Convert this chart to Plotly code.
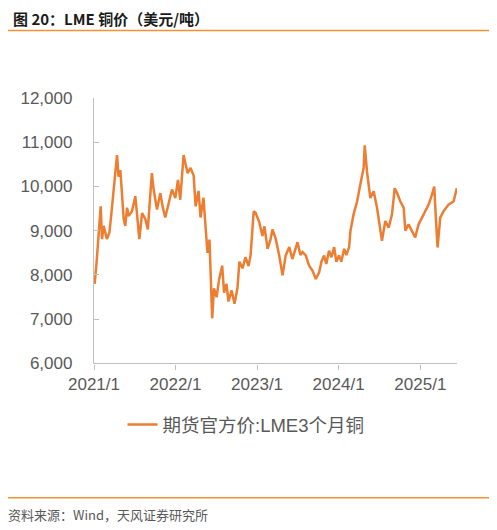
import plotly.graph_objects as go

# LME 3-month copper, USD/t
dates_2021 = ["2021-01-04", "2021-01-08", "2021-01-12", "2021-01-17", "2021-01-25", "2021-01-31",
              "2021-02-06", "2021-02-13", "2021-02-28", "2021-03-11", "2021-03-20", "2021-03-30",
              "2021-04-07", "2021-04-14", "2021-04-21", "2021-04-29", "2021-05-06", "2021-05-14",
              "2021-05-21", "2021-05-29", "2021-06-05", "2021-06-20", "2021-07-05", "2021-07-12",
              "2021-07-23", "2021-08-04", "2021-08-19", "2021-08-30", "2021-09-10", "2021-09-17",
              "2021-09-25", "2021-10-10", "2021-10-25", "2021-11-04", "2021-11-16", "2021-12-01",
              "2021-12-16", "2021-12-31"]
price_2021 = [7800, 7990, 8250, 8590, 9110, 9550,
              8810, 9110, 8810, 8960, 9400, 9930,
              10300, 10710, 10220, 10370, 9850, 9260,
              9110, 9520, 9330, 9440, 9780, 9330,
              8810, 9400, 9260, 9030, 9700, 10300,
              9930, 9480, 9850, 9550, 9300, 9590,
              9930, 9740]

dates_2022 = ["2022-01-12", "2022-01-22", "2022-02-06", "2022-02-24", "2022-03-09", "2022-03-23",
              "2022-04-01", "2022-04-14", "2022-04-23", "2022-05-06", "2022-05-15", "2022-05-24",
              "2022-06-02", "2022-06-07", "2022-06-14", "2022-06-22", "2022-07-04", "2022-07-15",
              "2022-07-29", "2022-08-06", "2022-08-17", "2022-08-26", "2022-09-09", "2022-09-22",
              "2022-10-05", "2022-10-14", "2022-10-28", "2022-11-10", "2022-11-24", "2022-12-03",
              "2022-12-17", "2022-12-26"]
price_2022 = [10150, 9700, 10710, 10300, 10420, 10250,
              9550, 9900, 9300, 9745, 9150, 8500,
              8800, 8070, 7020, 7700, 7500, 7900,
              8210, 7600, 7800, 7400, 7650, 7350,
              7700, 8300, 8150, 8400, 8200, 8450,
              9440, 9400]

dates_2023 = ["2023-01-11", "2023-01-25", "2023-02-03", "2023-02-17", "2023-03-02", "2023-03-11",
              "2023-03-26", "2023-04-10", "2023-04-25", "2023-05-09", "2023-05-25", "2023-06-08",
              "2023-06-20", "2023-07-01", "2023-07-14", "2023-07-23", "2023-08-07", "2023-08-22",
              "2023-09-06", "2023-09-21", "2023-10-06", "2023-10-16", "2023-10-28", "2023-11-07",
              "2023-11-19", "2023-11-30", "2023-12-12", "2023-12-22"]
price_2023 = [9190, 8880, 9100, 8590, 8800, 9030,
              8810, 8440, 7990, 8440, 8630, 8360,
              8550, 8740, 8450, 8520, 8440, 8210,
              8100, 7910, 8060, 8300, 8440, 8250,
              8550, 8400, 8630, 8300]

dates_2024 = ["2024-01-03", "2024-01-13", "2024-01-26", "2024-02-05", "2024-02-17", "2024-02-23",
              "2024-03-08", "2024-03-24", "2024-04-07", "2024-04-22", "2024-04-27", "2024-05-07",
              "2024-05-22", "2024-06-06", "2024-06-21", "2024-07-06", "2024-07-13", "2024-07-28",
              "2024-08-12", "2024-08-27", "2024-09-08", "2024-09-19", "2024-10-03", "2024-10-18",
              "2024-10-26", "2024-11-09", "2024-11-25", "2024-12-09", "2024-12-24"]
price_2024 = [8440, 8300, 8590, 8450, 8630, 8995,
              9370, 9665, 10040, 10420, 10930, 10335,
              9740, 9890, 9520, 9000, 8770, 9220,
              9070, 9370, 9960, 9850, 9665, 9520,
              9000, 9145, 9000, 8850, 9145]

dates_2025 = ["2025-01-08", "2025-01-23", "2025-02-07", "2025-02-22", "2025-03-04", "2025-03-13",
              "2025-03-19", "2025-03-31", "2025-04-15", "2025-05-07", "2025-05-30", "2025-06-13"]
price_2025 = [9295, 9440, 9590, 9815, 10000, 9145,
              8620, 9295, 9440, 9590, 9665, 9960]

dates = dates_2021 + dates_2022 + dates_2023 + dates_2024 + dates_2025
prices = price_2021 + price_2022 + price_2023 + price_2024 + price_2025

x_ticks = ["2021-01-01", "2022-01-01", "2023-01-01", "2024-01-01", "2025-01-01"]
x_labels = ["2021/1", "2022/1", "2023/1", "2024/1", "2025/1"]

series_name = "期货官方价:LME3个月铜"
title = "图 20：LME 铜价（美元/吨）"
source = "资料来源：Wind，天风证券研究所"

ORANGE = "#ED7D31"
RULE = "#F39033"
AXIS = "#BFBFBF"
TEXT = "#595959"
FONT = "Liberation Sans, Arial, Noto Sans CJK SC, sans-serif"

# the page puts the figure 8px in from the top-left corner
OFF = 8
W, H = 497 - OFF, 530 - OFF
ML, MR, MT, MB = 93 - OFF, 40, 98 - OFF, 165
plot_w = W - ML - MR
plot_h = H - MT - MB
bottom = H - MB  # plot bottom in figure pixels


def px_x(x):
    return (x - OFF - ML) / plot_w


def px_y(y):
    return (bottom - (y - OFF)) / plot_h


fig = go.Figure()
fig.add_trace(go.Scatter(x=dates, y=prices, mode="lines", name=series_name,
                         line=dict(color=ORANGE, width=2.5)))

fig.update_layout(
    width=W, height=H,
    margin=dict(l=ML, r=MR, t=MT, b=MB),
    paper_bgcolor="white", plot_bgcolor="white",
    font=dict(family=FONT, color=TEXT, size=17),
    showlegend=True,
    legend=dict(orientation="h", xref="container", yref="container",
                x=(246 - OFF) / W, xanchor="center", y=1 - (425 - OFF) / H, yanchor="middle",
                font=dict(size=18.5, color=TEXT)),
)

# title as an annotation just inside the top-left corner
fig.add_annotation(text="<b>" + title + "</b>", xref="paper", yref="paper",
                   x=px_x(10), y=px_y(18), xanchor="left", yanchor="middle",
                   showarrow=False,
                   font=dict(family="Noto Sans CJK SC, sans-serif", size=15, color="#1a1a1a"))

fig.update_xaxes(type="date", range=["2021-01-01", "2025-06-14"],
                 tickvals=x_ticks, ticktext=x_labels,
                 showline=True, linecolor=AXIS, linewidth=1.3,
                 ticks="outside", ticklen=5, tickcolor=AXIS,
                 showgrid=False, zeroline=False)
fig.update_yaxes(range=[6000, 12000], dtick=1000, tickformat=",",
                 showline=True, linecolor=AXIS, linewidth=1.3,
                 ticks="inside", ticklen=5, tickcolor=AXIS,
                 ticklabelstandoff=17,
                 showgrid=False, zeroline=False)

# orange rules above the chart and above the source line
for y_px in (30, 500):
    fig.add_shape(type="line", xref="paper", yref="paper",
                  x0=px_x(5), x1=px_x(492), y0=px_y(y_px), y1=px_y(y_px),
                  line=dict(color=RULE, width=1.5))

fig.add_annotation(text=source, xref="paper", yref="paper",
                   x=px_x(5), y=px_y(517),
                   xanchor="left", yanchor="middle", showarrow=False,
                   font=dict(family="Noto Sans CJK SC, sans-serif", size=13, color=TEXT))

fig.write_html("out.html")
